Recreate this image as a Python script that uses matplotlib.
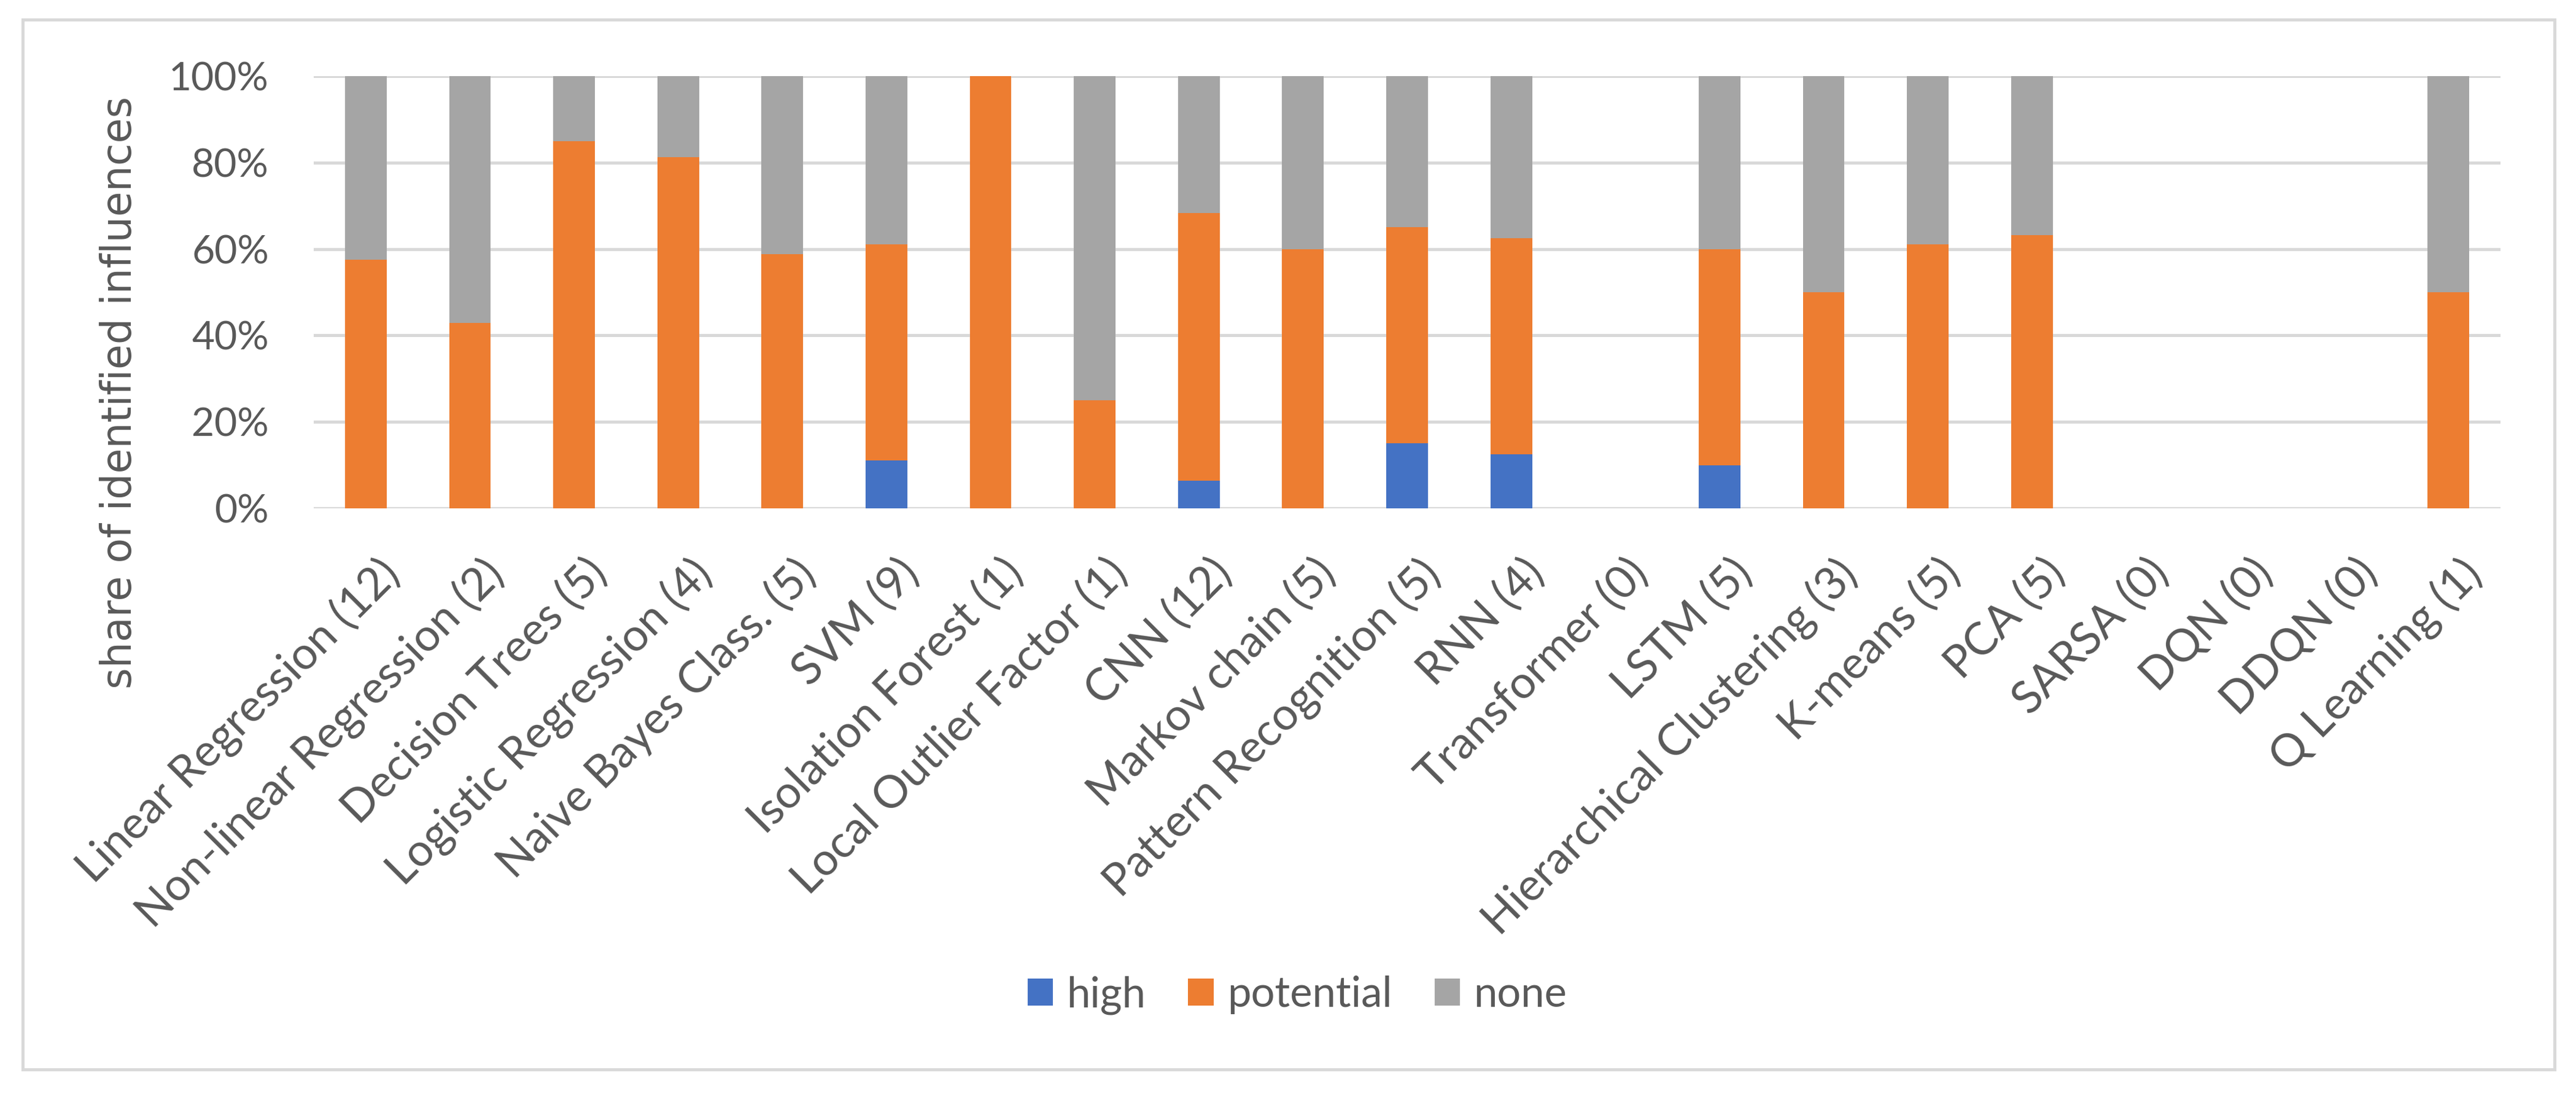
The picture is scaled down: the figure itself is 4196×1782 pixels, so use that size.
import numpy as np
import matplotlib.pyplot as plt
import matplotlib.transforms as mtransforms
from matplotlib.patches import Rectangle

# methods (number of papers), shares of identified influences
methods = ["Linear Regression (12)", "Non-linear Regression (2)", "Decision Trees (5)",
           "Logistic Regression (4)", "Naive Bayes Class. (5)", "SVM (9)",
           "Isolation Forest (1)", "Local Outlier Factor (1)", "CNN (12)",
           "Markov chain (5)", "Pattern Recognition (5)", "RNN (4)", "Transformer (0)",
           "LSTM (5)", "Hierarchical Clustering (3)", "K-means (5)", "PCA (5)",
           "SARSA (0)", "DQN (0)", "DDQN (0)", "Q Learning (1)"]
high = [0, 0, 0, 0, 0, 0.111, 0, 0, 0.064, 0, 0.15, 0.125, 0,
        0.10, 0, 0, 0, 0, 0, 0, 0]
potential = [0.575, 0.429, 0.85, 0.8125, 0.588, 0.50, 1.0, 0.25, 0.619, 0.60, 0.50, 0.50, 0,
             0.50, 0.50, 0.611, 0.632, 0, 0, 0, 0.50]
none = [0.425, 0.571, 0.15, 0.1875, 0.412, 0.389, 0, 0.75, 0.317, 0.40, 0.35, 0.375, 0,
        0.40, 0.50, 0.389, 0.368, 0, 0, 0, 0.50]
series = ["high", "potential", "none"]
colors = ["#4472C4", "#ED7D31", "#A5A5A5"]

txt = "#595959"
W, H, DPI = 4196, 1782, 300
fig = plt.figure(figsize=(W / DPI, H / DPI), dpi=DPI)

# outer chart border
fig.patches.append(Rectangle((37 / W, 1 - 1742 / H), (4161 - 37) / W, (1742 - 32) / H,
                             transform=fig.transFigure, fill=False,
                             edgecolor="#D9D9D9", linewidth=1.2))

ax = fig.add_axes([511 / W, 1 - 828 / H, (4073 - 511) / W, (828 - 124) / H])

x = np.arange(len(methods))
h = np.array(high)
p = np.array(potential)
n = np.array(none)
ax.bar(x, h, 0.4, color=colors[0], label=series[0], zorder=3)
ax.bar(x, p, 0.4, bottom=h, color=colors[1], label=series[1], zorder=3)
ax.bar(x, n, 0.4, bottom=h + p, color=colors[2], label=series[2], zorder=3)

ax.set_xlim(-0.5, len(methods) - 0.5)
ax.set_ylim(0, 1)
ax.set_yticks(np.arange(0, 1.01, 0.2))
ax.set_yticklabels([f"{int(round(v * 100))}%" for v in np.arange(0, 1.01, 0.2)],
                   fontsize=15.4, color=txt, family="Lato")
ax.yaxis.grid(True, color="#D9D9D9", linewidth=1.2, zorder=0)
ax.tick_params(axis="y", length=0, pad=17.5)
ax.tick_params(axis="x", length=0, pad=17)
for s in ax.spines.values():
    s.set_visible(False)

ax.set_xticks(x)
ax.set_xticklabels(methods, rotation=45, ha="right", va="top", rotation_mode="anchor",
                   fontsize=17.6, color=txt, family="Lato")
shift = mtransforms.ScaledTranslation(18 / DPI, 0, fig.dpi_scale_trans)
for lab in ax.get_xticklabels():
    lab.set_transform(lab.get_transform() + shift)

fig.text(228 / W, 1 - 639 / H, "share of identified influences", rotation=90,
         ha="right", va="center", fontsize=16, color=txt, family="DejaVu Sans")

handles, labels = ax.get_legend_handles_labels()
fig.legend(handles, labels, loc="center", bbox_to_anchor=(2113 / W, 1 - 1621 / H), ncol=3,
           frameon=False, prop={"family": "Lato", "size": 16.5}, labelcolor=txt,
           handlelength=0.6, handleheight=0.6, handletextpad=0.33, columnspacing=1.0)

fig.savefig("out.png", dpi=DPI, facecolor="white")
